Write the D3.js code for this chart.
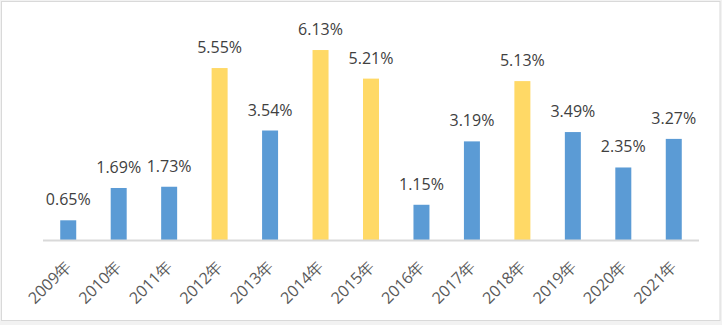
<!DOCTYPE html>
<html>
<head>
<meta charset="utf-8">
<script src="https://cdn.jsdelivr.net/npm/d3@7"></script>
<style>
html,body{margin:0;padding:0;background:#f2f2f2;}
svg{display:block;}
</style>
</head>
<body>
<svg id="chart" width="722" height="325"></svg>
<script>
const categories = ["2009年","2010年","2011年","2012年","2013年","2014年","2015年","2016年","2017年","2018年","2019年","2020年","2021年"];
const values = [0.65,1.69,1.73,5.55,3.54,6.13,5.21,1.15,3.19,5.13,3.49,2.35,3.27];
const highlighted = [false,false,false,true,false,true,true,false,false,true,false,false,false];
const labels = ["0.65%","1.69%","1.73%","5.55%","3.54%","6.13%","5.21%","1.15%","3.19%","5.13%","3.49%","2.35%","3.27%"];
const yDomain = [0, 7];

const svg = d3.select("#chart");
svg.append("rect").attr("x",0).attr("y",0).attr("width",722).attr("height",325).attr("fill","#f2f2f2");
svg.append("rect").attr("x",1.5).attr("y",1.5).attr("width",718.5).attr("height",319).attr("fill","#ffffff").attr("stroke","#d9d9d9").attr("stroke-width",1);

const x = d3.scaleBand().domain(categories).range([43, 699]).paddingInner(0.683).paddingOuter(0.3415);
const y = d3.scaleLinear().domain(yDomain).range([240.5, 23]);

const data = categories.map((c,i)=>({c, v: values[i], h: highlighted[i], l: labels[i]}));

svg.append("g").selectAll("rect").data(data).join("rect")
  .attr("x", d=>x(d.c)).attr("width", x.bandwidth())
  .attr("y", d=>y(d.v)).attr("height", d=>y(0)-y(d.v))
  .attr("fill", d=>d.h ? "#FFD966" : "#5B9BD5");

svg.append("g").selectAll("text").data(data).join("text")
  .attr("x", d=>x(d.c)+x.bandwidth()/2)
  .attr("y", d=>y(d.v)-15)
  .attr("text-anchor","middle")
  .attr("font-family","'Open Sans', sans-serif")
  .attr("font-size","16px")
  .attr("fill","#404040")
  .text(d=>d.l);

const axis = d3.axisBottom(x).tickSize(0).tickPadding(0);
const ag = svg.append("g").attr("transform","translate(0,240.5)").call(axis);
ag.select(".domain").attr("stroke","#d9d9d9").attr("stroke-width",2).attr("d","M43,0H699");
ag.selectAll(".tick text")
  .attr("font-family","'Open Sans', sans-serif")
  .attr("font-size","16px")
  .attr("fill","#595959")
  .attr("text-anchor","end")
  .attr("dy",0)
  .attr("transform","translate(4,27) rotate(-45)");
</script>
</body>
</html>
